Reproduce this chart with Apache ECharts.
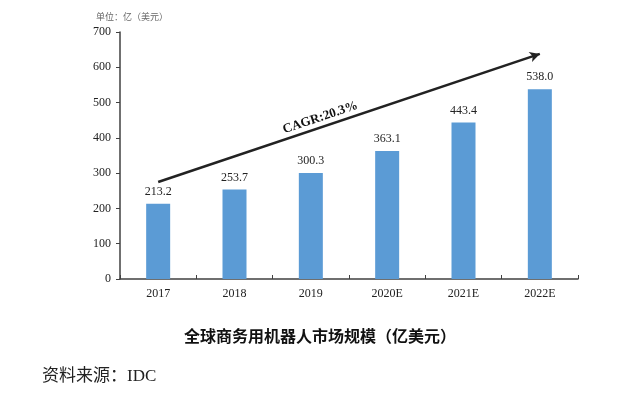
<!DOCTYPE html>
<html><head><meta charset="utf-8">
<script src="https://cdn.jsdelivr.net/npm/echarts@6/dist/echarts.min.js"></script>
<style>html,body{margin:0;padding:0;background:#fff}#c{width:640px;height:395px}</style>
</head><body><div id="c"></div>
<script>
const categories = ['2017','2018','2019','2020E','2021E','2022E'];
const values = [213.2, 253.7, 300.3, 363.1, 443.4, 538.0];
const yTicks = [0,100,200,300,400,500,600,700];
const trendStart = ['2017', 275];
const trendEnd = ['2022E', 638];
const cagrText = 'CAGR:20.3%';
const titleText = '全球商务用机器人市场规模（亿美元）';
const sourceText = '资料来源：IDC';
const unitText = '单位：亿（美元）';

const serif = '"Liberation Serif", "DejaVu Serif", serif';
const chart = echarts.init(document.getElementById('c'), null, {renderer:'canvas'});
chart.setOption({
  animation:false,
  backgroundColor:'#fff',
  grid:{left:120, right:62, top:32, bottom:116},
  title:[
    {text:titleText, left:'center', top:323, textStyle:{fontFamily:'"Noto Sans CJK SC"', fontWeight:'bold', fontSize:16, color:'#111'}},
    {text:sourceText, left:37, top:363, textStyle:{fontFamily:'"Liberation Serif", "Noto Sans CJK SC"', fontWeight:'normal', fontSize:17, color:'#222'}},
    {text:unitText, left:91, top:7, textStyle:{fontFamily:'"Noto Sans CJK SC"', fontWeight:'normal', fontSize:9, color:'#666'}}
  ],
  xAxis:{
    type:'category', data:categories,
    axisLine:{lineStyle:{color:'#404040', width:1.5}},
    axisTick:{show:true, length:4, inside:true, lineStyle:{color:'#404040'}},
    axisLabel:{fontFamily:serif, fontSize:12, color:'#222', margin:9}
  },
  yAxis:{
    type:'value', min:yTicks[0], max:yTicks[yTicks.length-1], interval:100,
    axisLine:{show:true, lineStyle:{color:'#404040', width:1.5}},
    axisTick:{show:true, length:4, lineStyle:{color:'#404040'}},
    splitLine:{show:false},
    axisLabel:{fontFamily:serif, fontSize:12, color:'#222', margin:9}
  },
  series:[{
    type:'bar', data:values, barWidth:24,
    itemStyle:{color:'#5B9BD5'},
    label:{show:true, position:'top', distance:6, fontFamily:serif, fontSize:12, color:'#222',
      formatter:p=>p.value.toFixed(1)},
    markLine:{
      silent:true,
      symbol:['none','arrow'], symbolSize:[8,10],
      lineStyle:{color:'#222', width:2.5, type:'solid'},
      label:{show:true, position:'insideMiddleTop', formatter:cagrText, fontFamily:serif, fontWeight:'bold', fontSize:13, color:'#111', distance:3, offset:[-28,0]},
      data:[[{coord:trendStart},{coord:trendEnd}]]
    }
  }]
});
</script></body></html>
